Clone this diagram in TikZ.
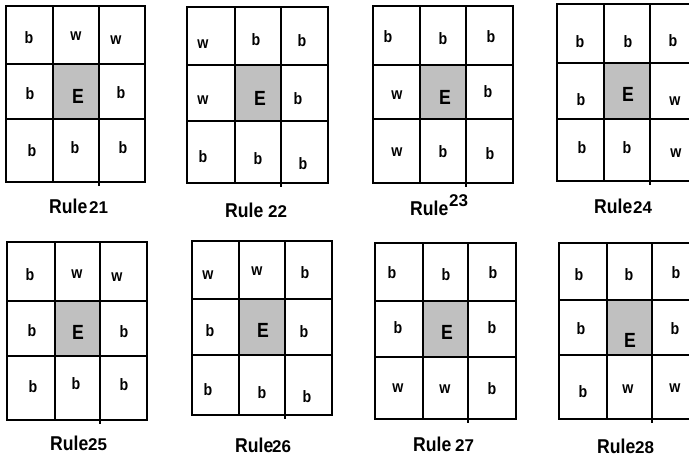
\documentclass[tikz,border=0pt]{standalone}
\usepackage{fontspec}
\setmainfont{Liberation Sans}
\definecolor{cellgray}{RGB}{192,192,192}
\tikzset{
  gridline/.style={line width=2.6pt, line cap=rect},
  lt/.style={font=\fontsize{16.5}{16.5}\selectfont\bfseries, inner sep=0pt},
  ee/.style={font=\fontsize{20.5}{20.5}\selectfont\bfseries, inner sep=0pt},
  rw/.style={font=\fontsize{20}{20}\selectfont\bfseries, inner sep=0pt, anchor=base west},
  rn/.style={font=\fontsize{17}{17}\selectfont\bfseries, inner sep=0pt, anchor=base west},
}
\newcommand\mygrid[8]{%
  \fill[cellgray] (#2,#6) rectangle (#3,#7);
  \draw[gridline] (#1,#5) rectangle (#4,#8);
  \draw[gridline] (#2,#5) -- (#2,#8) (#3,#5) -- (#3,#8)
    (#1,#6) -- (#4,#6) (#1,#7) -- (#4,#7);
  \draw[line width=1.5pt] (#3,#8) -- ++(0,4);
}
\newcommand\rulew[1]{\scalebox{0.88}[1]{#1}}
\newcommand\lb[1]{\scalebox{0.86}[1]{#1}}
\begin{document}
\begin{tikzpicture}[x=1pt,y=-1pt]
\useasboundingbox (0,0) rectangle (689,460);
\clip (0,0) rectangle (689,460);
\fill[white] (0,0) rectangle (689,460);
% grids
\mygrid{6}{53}{99}{145}{6}{64}{119}{182}
\mygrid{187}{235}{281}{328}{7}{65}{121}{183}
\mygrid{373}{420}{466}{513}{6}{65}{119}{183}
\mygrid{557}{604}{650}{697}{4}{63}{119}{181}
\mygrid{7}{55}{100}{147}{242}{301}{356}{420}
\mygrid{192}{239}{285}{332}{241}{299}{355}{415}
\mygrid{375}{423}{468}{516}{243}{301}{357}{419}
\mygrid{559}{607}{652}{699}{243}{300}{355}{419}
% Rule 21
\node[lt] (a1) at (29,38) {\lb{b}};
\node[lt] (a2) at (76,36) {\lb{w}};
\node[lt] (a3) at (116,40) {\lb{w}};
\node[lt] (a4) at (30,94) {\lb{b}};
\node[ee] (a5) at (78,96) {\lb{E}};
\node[lt] (a6) at (121,93) {\lb{b}};
\node[lt] (a7) at (32,151) {\lb{b}};
\node[lt] (a8) at (75,148) {\lb{b}};
\node[lt] (a9) at (123,148) {\lb{b}};
\node[rw] (ar) at (49,213) {\rulew{Rule}};
\node[rn] (an) at (89,213) {21};
% Rule 22
\node[lt] (b1) at (203,44) {\lb{w}};
\node[lt] (b2) at (256,40) {\lb{b}};
\node[lt] (b3) at (302,41) {\lb{b}};
\node[lt] (b4) at (203,100) {\lb{w}};
\node[ee] (b5) at (260,98) {\lb{E}};
\node[lt] (b6) at (298,99) {\lb{b}};
\node[lt] (b7) at (203,157) {\lb{b}};
\node[lt] (b8) at (258,159) {\lb{b}};
\node[lt] (b9) at (303,164) {\lb{b}};
\node[rw] (br) at (225,217) {\rulew{Rule}};
\node[rn] (bn) at (268,217) {22};
% Rule 23
\node[lt] (c1) at (388,37) {\lb{b}};
\node[lt] (c2) at (443,39) {\lb{b}};
\node[lt] (c3) at (491,37) {\lb{b}};
\node[lt] (c4) at (397,95) {\lb{w}};
\node[ee] (c5) at (445,97) {\lb{E}};
\node[lt] (c6) at (488,92) {\lb{b}};
\node[lt] (c7) at (397,152) {\lb{w}};
\node[lt] (c8) at (443,152) {\lb{b}};
\node[lt] (c9) at (490,154) {\lb{b}};
\node[rw] (cr) at (410,215) {\rulew{Rule}};
\node[rn] (cn) at (449,206) {23};
% Rule 24
\node[lt] (d1) at (580,42) {\lb{b}};
\node[lt] (d2) at (628,42) {\lb{b}};
\node[lt] (d3) at (673,41) {\lb{b}};
\node[lt] (d4) at (581,100) {\lb{b}};
\node[ee] (d5) at (628,94) {\lb{E}};
\node[lt] (d6) at (675,101) {\lb{w}};
\node[lt] (d7) at (582,148) {\lb{b}};
\node[lt] (d8) at (627,148) {\lb{b}};
\node[lt] (d9) at (676,153) {\lb{w}};
\node[rw] (dr) at (594,213) {\rulew{Rule}};
\node[rn] (dn) at (633,213) {24};
% Rule 25
\node[lt] (e1) at (30,275) {\lb{b}};
\node[lt] (e2) at (77,274) {\lb{w}};
\node[lt] (e3) at (117,277) {\lb{w}};
\node[lt] (e4) at (32,331) {\lb{b}};
\node[ee] (e5) at (78,332) {\lb{E}};
\node[lt] (e6) at (124,332) {\lb{b}};
\node[lt] (e7) at (33,387) {\lb{b}};
\node[lt] (e8) at (76,384) {\lb{b}};
\node[lt] (e9) at (124,385) {\lb{b}};
\node[rw] (er) at (50,450) {\rulew{Rule}};
\node[rn] (en) at (88,450) {25};
% Rule 26
\node[lt] (f1) at (208,275) {\lb{w}};
\node[lt] (f2) at (257,271) {\lb{w}};
\node[lt] (f3) at (305,273) {\lb{b}};
\node[lt] (f4) at (210,331) {\lb{b}};
\node[ee] (f5) at (263,330) {\lb{E}};
\node[lt] (f6) at (304,332) {\lb{b}};
\node[lt] (f7) at (208,390) {\lb{b}};
\node[lt] (f8) at (262,393) {\lb{b}};
\node[lt] (f9) at (307,397) {\lb{b}};
\node[rw] (fr) at (235,452) {\rulew{Rule}};
\node[rn] (fn) at (272,452) {26};
% Rule 27
\node[lt] (g1) at (392,273) {\lb{b}};
\node[lt] (g2) at (446,275) {\lb{b}};
\node[lt] (g3) at (493,273) {\lb{b}};
\node[lt] (g4) at (398,328) {\lb{b}};
\node[ee] (g5) at (447,332) {\lb{E}};
\node[lt] (g6) at (492,328) {\lb{b}};
\node[lt] (g7) at (398,388) {\lb{w}};
\node[lt] (g8) at (445,389) {\lb{w}};
\node[lt] (g9) at (492,389) {\lb{b}};
\node[rw] (gr) at (413,451) {\rulew{Rule}};
\node[rn] (gn) at (455,451) {27};
% Rule 28
\node[lt] (h1) at (579,275) {\lb{b}};
\node[lt] (h2) at (629,275) {\lb{b}};
\node[lt] (h3) at (676,273) {\lb{b}};
\node[lt] (h4) at (581,329) {\lb{b}};
\node[ee] (h5) at (630,340) {\lb{E}};
\node[lt] (h6) at (675,329) {\lb{b}};
\node[lt] (h7) at (583,392) {\lb{b}};
\node[lt] (h8) at (628,389) {\lb{w}};
\node[lt] (h9) at (675,388) {\lb{w}};
\node[rw] (hr) at (597,453) {\rulew{Rule}};
\node[rn] (hn) at (635,453) {28};
\end{tikzpicture}
\end{document}
